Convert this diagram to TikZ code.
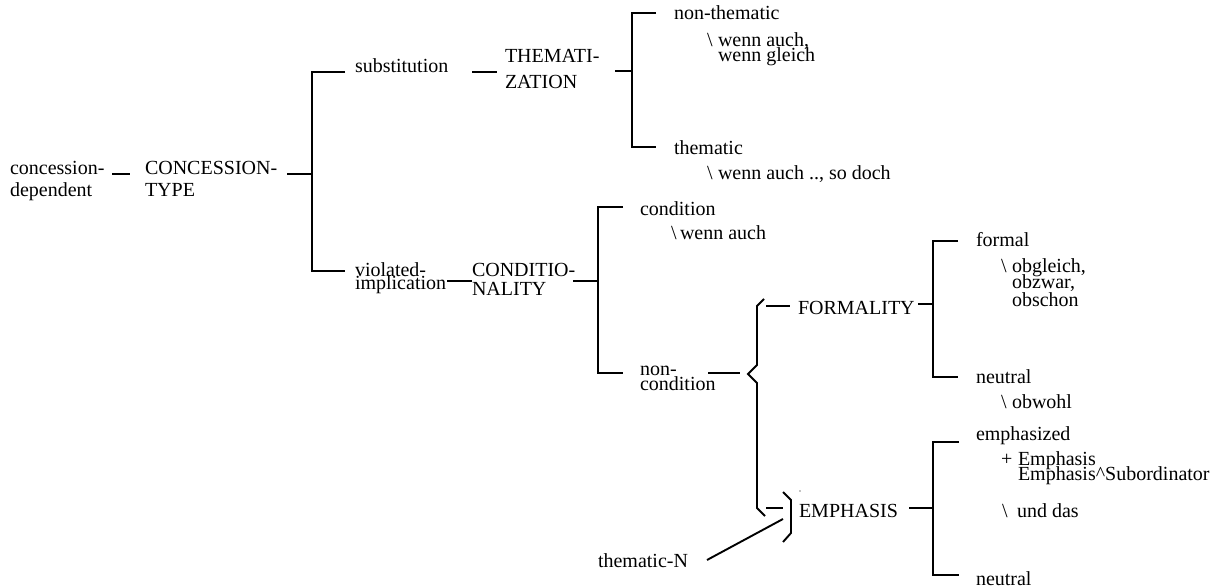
\documentclass[tikz,border=0pt]{standalone}
\usepackage{fontspec}
\setmainfont{LiberationSerif}[Extension=.ttf,UprightFont=*-Regular]
\begin{document}
\begin{tikzpicture}[x=1pt,y=-1pt,
  lbl/.style={anchor=base west,inner sep=0pt,outer sep=0pt,text height=12pt,text depth=2pt,font=\fontsize{20}{20}\selectfont},
  conn/.style={line width=1.9pt,line cap=butt,line join=miter}]
\useasboundingbox (0,0) rectangle (1219,588);
% ---- text nodes
\node[lbl] (cd1) at (10,175) {concession-};
\node[lbl] (cd2) at (10,197) {dependent};
\node[lbl] (ct1) at (145,175) {CONCESSION-};
\node[lbl] (ct2) at (145,197) {TYPE};
\node[lbl] (sub) at (355,73) {substitution};
\node[lbl] (th1) at (505,63) {THEMATI-};
\node[lbl] (th2) at (505,89) {ZATION};
\node[lbl] (nth) at (674,20) {non-thematic};
\node[lbl] (nthb) at (707,47) {\textbackslash};
\node[lbl] (nth1) at (718,47) {wenn auch,};
\node[lbl] (nth2) at (718,62) {wenn gleich};
\node[lbl] (thm) at (674,155) {thematic};
\node[lbl] (thmb) at (707,180) {\textbackslash};
\node[lbl] (thm1) at (718,180) {wenn auch .., so doch};
\node[lbl] (vi1) at (355,277) {violated-};
\node[lbl] (vi2) at (355,290) {implication};
\node[lbl] (co1) at (472,277) {CONDITIO-};
\node[lbl] (co2) at (472,296) {NALITY};
\node[lbl] (cond) at (640,216) {condition};
\node[lbl] (condb) at (671,240) {\textbackslash};
\node[lbl] (cond1) at (680,240) {wenn auch};
\node[lbl] (nc1) at (640,375) {non-};
\node[lbl] (nc2) at (640,390) {condition};
\node[lbl] (form) at (798,314) {FORMALITY};
\node[lbl] (fml) at (976,247) {formal};
\node[lbl] (fmlb) at (1001,273) {\textbackslash};
\node[lbl] (fml1) at (1012,273) {obgleich,};
\node[lbl] (fml2) at (1012,289) {obzwar,};
\node[lbl] (fml3) at (1012,306) {obschon};
\node[lbl] (neu1) at (976,383) {neutral};
\node[lbl] (neu1b) at (1001,408) {\textbackslash};
\node[lbl] (neu1a) at (1012,408) {obwohl};
\node[lbl] (emph) at (799,517) {EMPHASIS};
\node[lbl] (emd) at (976,440) {emphasized};
\node[lbl] (emdp) at (1001,465) {+};
\node[lbl] (emd1) at (1018,465) {Emphasis};
\node[lbl] (emd2) at (1018,480) {Emphasis\^{}Subordinator};
\node[lbl] (emdb) at (1002,517) {\textbackslash};
\node[lbl] (emd3) at (1017,517) {und das};
\node[lbl] (neu2) at (976,585) {neutral};
\node[lbl] (tN) at (598,567) {thematic-N};
% ---- joints
\coordinate (a1) at (112,174); \coordinate (a2) at (130,174);
\coordinate (b1) at (287,174); \coordinate (b2) at (312,174);
\coordinate (bt) at (312,72);  \coordinate (bb) at (312,271);
\coordinate (bt2) at (345,72); \coordinate (bb2) at (345,271);
\coordinate (c1) at (472,72);  \coordinate (c2) at (497,72);
\coordinate (d1) at (615,71);  \coordinate (d2) at (632,71);
\coordinate (dt) at (632,13);  \coordinate (db) at (632,147);
\coordinate (dt2) at (656,13); \coordinate (db2) at (656,147);
\coordinate (e1) at (447,281); \coordinate (e2) at (472,281);
\coordinate (f1) at (573,281); \coordinate (f2) at (598,281);
\coordinate (ft) at (598,207); \coordinate (fb) at (598,373);
\coordinate (ft2) at (623,207); \coordinate (fb2) at (623,373);
\coordinate (g1) at (708,373); \coordinate (g2) at (740,373);
\coordinate (h1) at (766,306); \coordinate (h2) at (790,306);
\coordinate (i1) at (918,304); \coordinate (i2) at (933,304);
\coordinate (it) at (933,241); \coordinate (ib) at (933,377);
\coordinate (it2) at (958,241); \coordinate (ib2) at (958,377);
\coordinate (j1) at (766,508); \coordinate (j2) at (783,508);
\coordinate (k1) at (707,560); \coordinate (k2) at (783,519);
\coordinate (l1) at (909,508); \coordinate (l2) at (933,508);
\coordinate (lt) at (933,442); \coordinate (lb) at (933,575);
\coordinate (lt2) at (959,442); \coordinate (lb2) at (959,575);
% ---- connectors
\draw[conn] (a1) -- (a2);
\draw[conn] (b1) -- (b2);
\draw[conn] (bt2) -- (bt) -- (bb) -- (bb2);
\draw[conn] (c1) -- (c2);
\draw[conn] (d1) -- (d2);
\draw[conn] (dt2) -- (dt) -- (db) -- (db2);
\draw[conn] (e1) -- (e2);
\draw[conn] (f1) -- (f2);
\draw[conn] (ft2) -- (ft) -- (fb) -- (fb2);
\draw[conn] (g1) -- (g2);
% left brace
\draw[conn] (764,299) -- (757,306) -- (757,365) -- (748,374) -- (757,383) -- (757,508) -- (765,516);
\draw[conn] (h1) -- (h2);
\draw[conn] (i1) -- (i2);
\draw[conn] (it2) -- (it) -- (ib) -- (ib2);
\draw[conn] (j1) -- (j2);
% right bracket
\draw[conn] (783,492) -- (791,500) -- (791,533) -- (783,542);
\draw[conn] (k1) -- (k2);
\fill (800,491) circle (0.6);
\draw[conn] (l1) -- (l2);
\draw[conn] (lt2) -- (lt) -- (lb) -- (lb2);
\end{tikzpicture}
\end{document}
